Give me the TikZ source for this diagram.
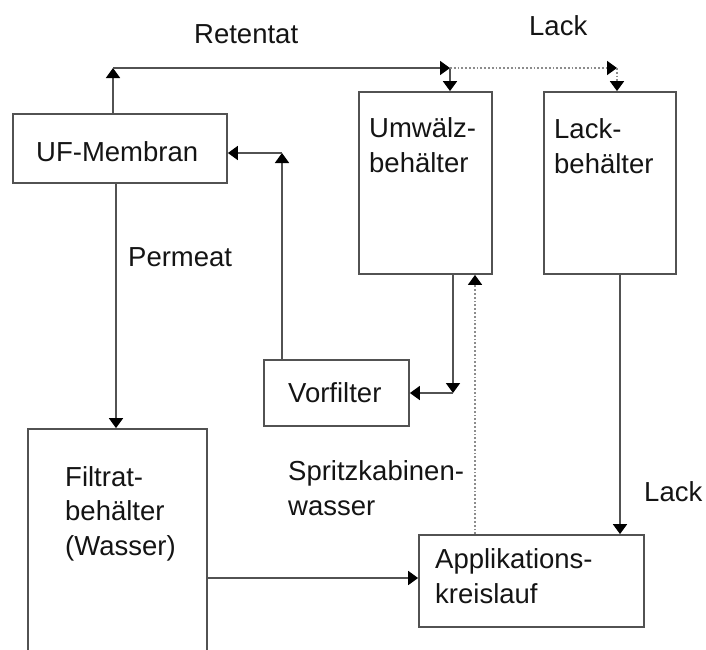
\documentclass[tikz,border=0pt]{standalone}
\usepackage{fontspec}
\setmainfont{Liberation Sans}
\usetikzlibrary{arrows.meta}
\begin{document}
\begin{tikzpicture}[x=1pt,y=-1pt,
  box/.style={draw=black!68,line width=1.8pt,rectangle,inner sep=0pt},
  lbl/.style={inner sep=0pt,anchor=base west,align=left,text=black!92,
    font=\fontsize{27.5}{34.5}\selectfont},
  flow/.style={draw=black!68,line width=1.8pt,-{Triangle[width=14pt,length=10pt,color=black,fill=black]}},
  dflow/.style={flow,dotted,draw=black!45}]
\useasboundingbox (0,0) rectangle (706,649);
\clip (0,0) rectangle (706,649);
% boxes
\node[box,minimum width=214pt,minimum height=69pt] (uf) at (120,148.5) {};
\node[box,minimum width=133pt,minimum height=182pt] (umw) at (425.5,183) {};
\node[box,minimum width=132pt,minimum height=182pt] (lackb) at (610,183) {};
\node[box,minimum width=145pt,minimum height=66pt] (vor) at (336.5,393) {};
\node[box,minimum width=179pt,minimum height=251pt] (filt) at (117.5,554.5) {};
\node[box,minimum width=225pt,minimum height=92pt] (app) at (531.5,581) {};
% texts (multi-line: anchor at the baseline of the last line)
\node[lbl] (tuf) at (36,161) {UF-Membran};
\node[lbl] (tumw) at (369,172) {Umwälz-\\behälter};
\node[lbl] (tlackb) at (554,173) {Lack-\\behälter};
\node[lbl] (tvor) at (288,402) {Vorfilter};
\node[lbl] (tfilt) at (65,555) {Filtrat-\\behälter\\(Wasser)};
\node[lbl] (tapp) at (435,603) {Applikations-\\kreislauf};
\node[lbl] (tret) at (194,43) {Retentat};
\node[lbl] (tlack1) at (529,35) {Lack};
\node[lbl] (tperm) at (128,266) {Permeat};
\node[lbl] (tspr) at (288,515) {Spritzkabinen-\\wasser};
\node[lbl] (tlack2) at (644,501) {Lack};
% helper coordinates
\coordinate (c1) at (113,68);
\coordinate (j) at (450,68);
\coordinate (c2) at (617,68);
\coordinate (c3) at (282,153);
\coordinate (c4) at (453,393);
\coordinate (c5) at (475,400);
\coordinate (c6) at (620,400);
\coordinate (c7) at (116,300);
\coordinate (c8) at (300,578);
% connectors
\draw[flow] (c1 |- uf.north) -- (c1);
\draw[flow] (c1) -- (j);
\draw[flow] (j) -- (j |- umw.north);
\draw[dflow] (j) -- (c2);
\draw[dflow] (c2) -- (c2 |- lackb.north);
\draw[flow] (c3 |- vor.north) -- (c3);
\draw[flow] (c3) -- (c3 -| uf.east);
\draw[flow] (c4 |- umw.south) -- (c4);
\draw[flow] (c4) -- (vor.east);
\draw[dflow] (c5 |- app.north) -- (c5 |- umw.south);
\draw[flow] (c6 |- lackb.south) -- (c6 |- app.north);
\draw[flow] (c7 |- uf.south) -- (c7 |- filt.north);
\draw[flow] (filt.east |- c8) -- (app.west |- c8);
\end{tikzpicture}
\end{document}
